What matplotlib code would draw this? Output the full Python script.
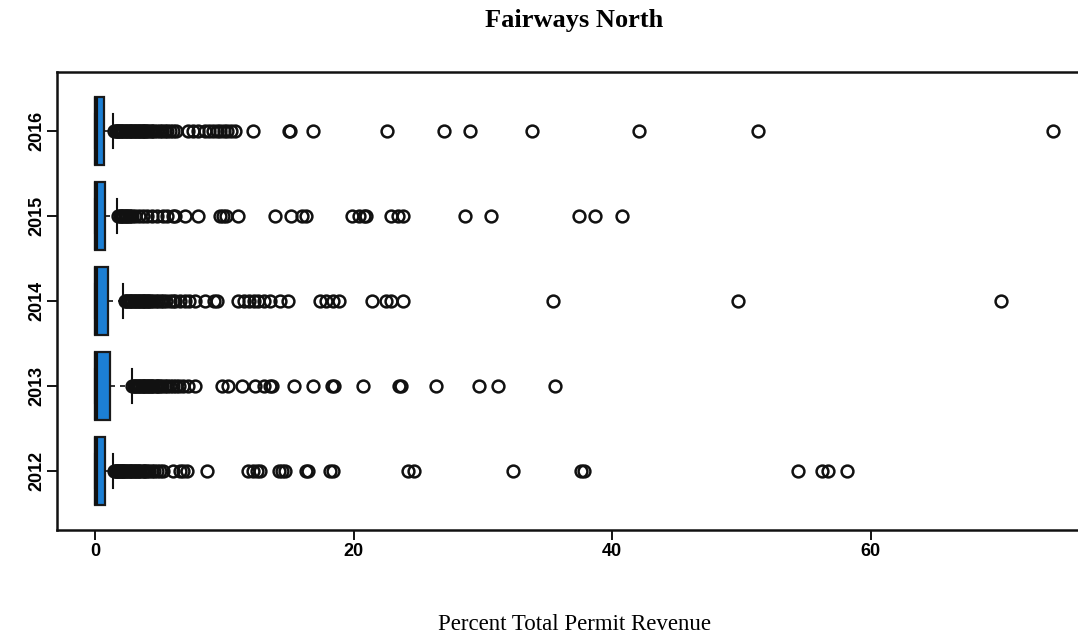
import matplotlib.pyplot as plt

years = ['2012', '2013', '2014', '2015', '2016']

# box statistics per year (share of total permit revenue, %)
q1 = [0.0, 0.0, 0.0, 0.0, 0.0]
med = [0.05, 0.05, 0.05, 0.05, 0.05]
q3 = [0.75, 1.15, 1.0, 0.8, 0.7]
whislo = [0.0, 0.0, 0.0, 0.0, 0.0]
whishi = [1.4, 2.85, 2.2, 1.7, 1.4]

fliers_2012 = [1.5, 1.6, 1.65, 1.7, 1.8, 1.85, 1.9, 2.0, 2.1, 2.15, 2.2, 2.3, 2.4, 2.5,
               2.6, 2.7, 2.8, 2.9, 3.0, 3.1, 3.2, 3.3, 3.4, 3.5, 3.7, 3.8, 3.9, 4.0, 4.2,
               4.4, 4.6, 4.8, 5.0, 5.3, 6.0, 6.6, 6.8, 7.1, 8.7, 11.8, 12.2, 12.5, 12.8,
               14.2, 14.5, 14.7, 16.3, 16.5, 18.2, 18.4, 24.2, 24.7, 32.3, 37.6, 37.8,
               54.4, 56.2, 56.7, 58.2]
fliers_2013 = [2.9, 3.0, 3.1, 3.2, 3.3, 3.4, 3.5, 3.6, 3.7, 3.8, 3.9, 4.0, 4.1, 4.2, 4.3,
               4.4, 4.5, 4.7, 4.8, 4.9, 5.0, 5.2, 5.4, 5.6, 5.8, 6.0, 6.3, 6.5, 6.8, 7.2,
               7.7, 9.8, 10.3, 11.4, 12.4, 13.1, 13.5, 13.7, 15.4, 16.9, 18.3, 18.5, 20.7,
               23.5, 23.7, 26.4, 29.7, 31.2, 35.6]
fliers_2014 = [2.3, 2.4, 2.5, 2.6, 2.7, 2.8, 2.9, 3.0, 3.1, 3.2, 3.3, 3.4, 3.5, 3.6, 3.7,
               3.8, 3.9, 4.0, 4.1, 4.2, 4.3, 4.5, 4.7, 4.9, 5.1, 5.3, 5.5, 5.8, 6.0, 6.2,
               6.6, 7.0, 7.3, 7.7, 8.5, 9.2, 9.4, 11.1, 11.5, 11.9, 12.3, 12.6, 13.1,
               13.5, 14.3, 14.9, 17.4, 17.9, 18.4, 18.9, 21.4, 22.5, 22.9, 23.8, 35.4,
               49.7, 70.1]
fliers_2015 = [1.8, 1.9, 2.0, 2.1, 2.2, 2.3, 2.4, 2.5, 2.6, 2.7, 2.9, 3.1, 3.4, 3.7, 4.0,
               4.4, 4.8, 5.3, 5.6, 6.0, 6.2, 7.0, 8.0, 9.7, 9.9, 10.1, 11.1, 13.9, 15.2,
               16.0, 16.3, 19.9, 20.4, 20.8, 21.0, 22.9, 23.4, 23.8, 28.6, 30.6, 37.4,
               38.7, 40.8]
fliers_2016 = [1.5, 1.6, 1.7, 1.75, 1.8, 1.9, 2.0, 2.1, 2.2, 2.3, 2.4, 2.5, 2.6, 2.7, 2.8,
               2.9, 3.0, 3.1, 3.2, 3.3, 3.4, 3.5, 3.6, 3.7, 3.8, 3.9, 4.0, 4.1, 4.3, 4.4,
               4.6, 4.8, 5.0, 5.2, 5.4, 5.6, 5.8, 6.0, 6.3, 7.2, 7.6, 8.0, 8.5, 8.8, 9.1,
               9.4, 9.7, 10.0, 10.2, 10.5, 10.8, 12.2, 15.0, 15.1, 16.9, 22.6, 27.0, 29.0,
               33.8, 42.1, 51.3, 74.1]
fliers = [fliers_2012, fliers_2013, fliers_2014, fliers_2015, fliers_2016]

stats = []
for i in range(len(years)):
    stats.append({'q1': q1[i], 'med': med[i], 'q3': q3[i],
                  'whislo': whislo[i], 'whishi': whishi[i],
                  'fliers': fliers[i], 'label': years[i]})

fig = plt.figure(figsize=(10.78, 6.39), dpi=100)
# axes run a little past the right edge of the page, like the cropped original
ax = fig.add_axes([56.7 / 1078, 1 - 530 / 639, (1090 - 56.7) / 1078, (530 - 72) / 639])

ax.bxp(stats, positions=range(1, 6), widths=0.8, orientation='horizontal',
       patch_artist=True, showcaps=True,
       boxprops=dict(facecolor='#1C7FD4', edgecolor='#1a1a1a', linewidth=1.6),
       medianprops=dict(color='#111111', linewidth=3),
       whiskerprops=dict(color='#111111', linewidth=1.2, linestyle=(0, (3, 3))),
       capprops=dict(color='#111111', linewidth=1.5),
       capwidths=0.4,
       flierprops=dict(marker='o', markerfacecolor='none', markeredgecolor='#111111',
                       markersize=8.5, markeredgewidth=1.8))

ax.set_xlim(-2.96, 76.96)
ax.set_ylim(0.3, 5.7)
ax.set_xticks([0, 20, 40, 60])
ax.set_xticklabels(['0', '20', '40', '60'], family='Liberation Sans',
                   fontweight='bold', fontsize=13)
ax.set_yticks(range(1, 6))
ax.set_yticklabels(years, rotation=90, va='center', family='Liberation Sans',
                   fontweight='bold', fontsize=13)
ax.tick_params(axis='both', direction='out', length=7, width=1.3)
ax.tick_params(axis='x', pad=2)
ax.tick_params(axis='y', pad=1)
for s in ax.spines.values():
    s.set_linewidth(1.8)
    s.set_color('#111111')

fig.text(574 / 1078, 1 - 20 / 639, 'Fairways North', ha='center', va='center',
         family='Liberation Serif', fontweight='bold', fontsize=19)
fig.text(574 / 1078, 1 - 625 / 639, 'Percent Total Permit Revenue', ha='center',
         va='center', family='Liberation Serif', fontsize=16.5)

fig.savefig('out.png', dpi=100)
